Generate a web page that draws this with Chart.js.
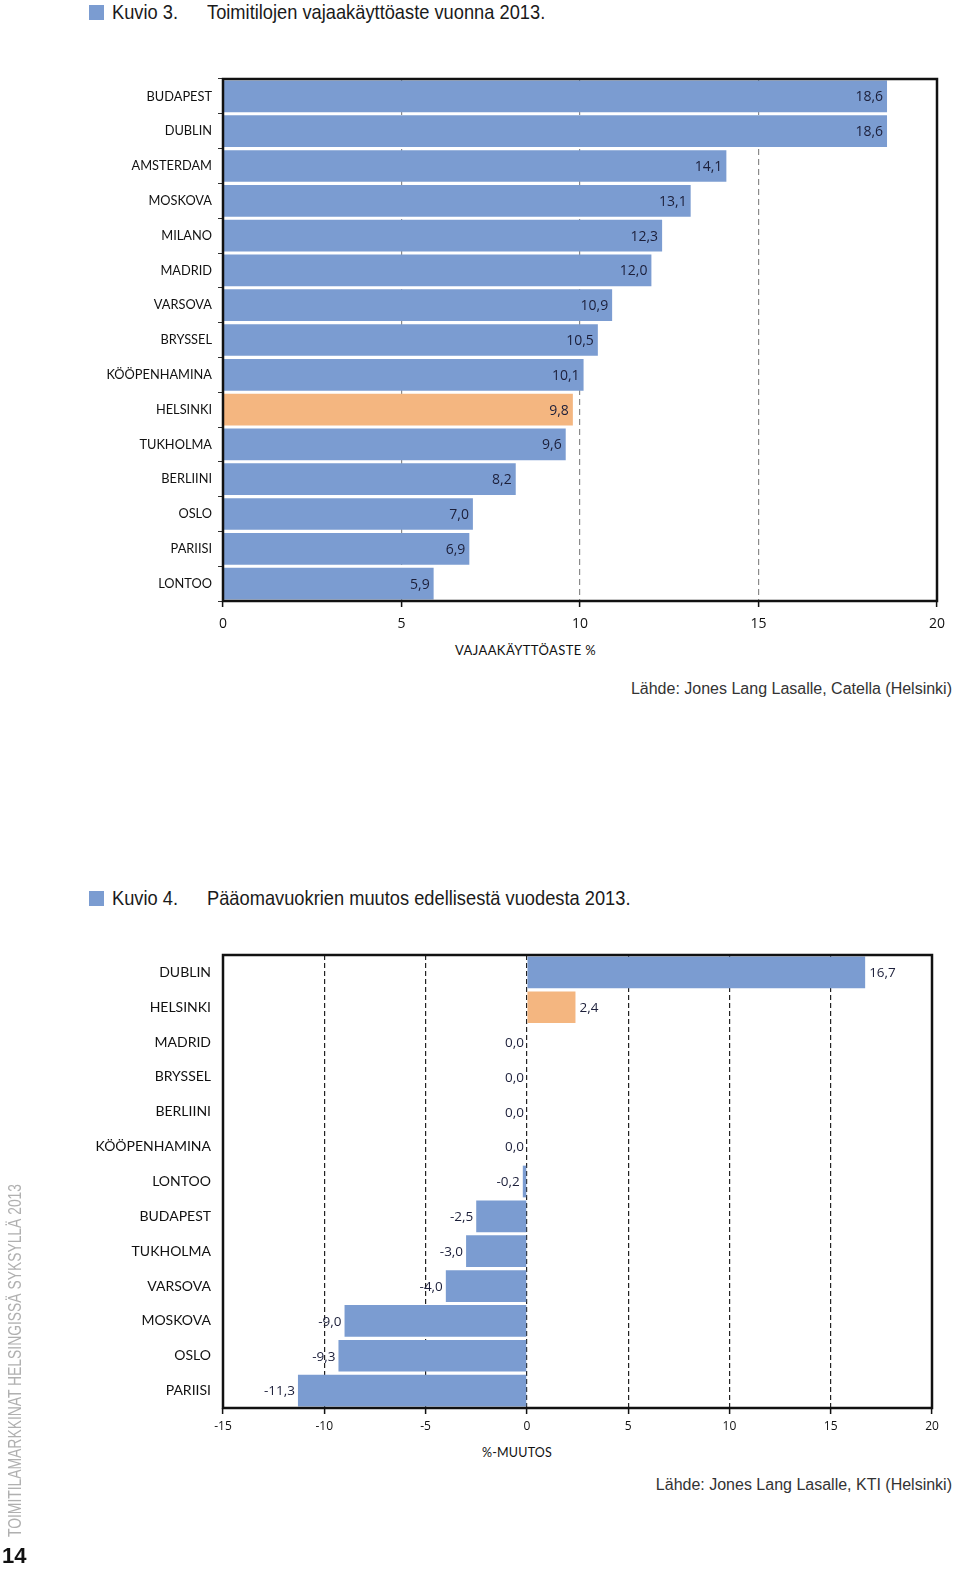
<!DOCTYPE html>
<html lang="fi">
<head>
<meta charset="UTF-8">
<title>Kuvio 3 ja 4</title>
<script src="https://cdn.jsdelivr.net/npm/chart.js"></script>
<style>
  body { margin: 0; background: #fff; width: 960px; height: 1579px; position: relative; overflow: hidden; }
  .title { position: absolute; left: 89px; font-family: "Liberation Sans", sans-serif; font-size: 21px; color: #1a1a1a; white-space: nowrap; }
  .title .sq { position: absolute; left: 0; top: 5px; width: 15px; height: 15px; background: #7b9cd1; }
  .title .num, .title .txt { position: absolute; top: 0; display: inline-block; transform-origin: 0 0; transform: scaleX(0.87); }
  .title .num { left: 23px; }
  .title .txt { left: 118px; }
  .axt { position: absolute; font-family: Lato, sans-serif; font-size: 13px; letter-spacing: 0.4px; color: #111; white-space: nowrap; }
  .src { position: absolute; right: 8px; font-family: "Liberation Sans", sans-serif; font-size: 16px; color: #333; white-space: nowrap; }
  canvas { position: absolute; left: 0; }
  .side { position: absolute; left: 4px; top: 1537px; transform-origin: 0 0; transform: rotate(-90deg) scaleX(0.73); font-family: "Liberation Sans", sans-serif; font-size: 19px; color: #b0b0b0; white-space: nowrap; }
  .page { position: absolute; left: 2px; top: 1543px; font-family: "Liberation Sans", sans-serif; font-weight: bold; font-size: 22px; color: #111; }
</style>
</head>
<body>

<div class="title" style="top:0px"><div class="sq"></div><span class="num">Kuvio 3.</span><span class="txt">Toimitilojen vajaakäyttöaste vuonna 2013.</span></div>
<canvas id="chart1" width="960" height="570" style="top:70px"></canvas>
<div class="axt" style="left:455px; top:642px">VAJAAKÄYTTÖASTE %</div>
<div class="src" style="top:680px">Lähde: Jones Lang Lasalle, Catella (Helsinki)</div>

<div class="title" style="top:886px"><div class="sq"></div><span class="num">Kuvio 4.</span><span class="txt">Pääomavuokrien muutos edellisestä vuodesta 2013.</span></div>
<canvas id="chart2" width="960" height="500" style="top:945px"></canvas>
<div class="axt" style="left:482px; top:1445px; font-size:12.5px; letter-spacing:0.2px">%-MUUTOS</div>
<div class="src" style="top:1476px">Lähde: Jones Lang Lasalle, KTI (Helsinki)</div>

<div class="side">TOIMITILAMARKKINAT HELSINGISSÄ SYKSYLLÄ 2013</div>
<div class="page">14</div>

<script>
  // Kuvio 3: vajaakäyttöaste %
  const cities1 = ['BUDAPEST', 'DUBLIN', 'AMSTERDAM', 'MOSKOVA', 'MILANO', 'MADRID', 'VARSOVA', 'BRYSSEL', 'KÖÖPENHAMINA', 'HELSINKI', 'TUKHOLMA', 'BERLIINI', 'OSLO', 'PARIISI', 'LONTOO']
  const vacancy = [18.6, 18.6, 14.1, 13.1, 12.3, 12.0, 10.9, 10.5, 10.1, 9.8, 9.6, 8.2, 7.0, 6.9, 5.9]
  const ticks1 = [0, 5, 10, 15, 20]

  // Kuvio 4: pääomavuokrien muutos %
  const cities2 = ['DUBLIN', 'HELSINKI', 'MADRID', 'BRYSSEL', 'BERLIINI', 'KÖÖPENHAMINA', 'LONTOO', 'BUDAPEST', 'TUKHOLMA', 'VARSOVA', 'MOSKOVA', 'OSLO', 'PARIISI']
  const rentChange = [16.7, 2.4, 0.0, 0.0, 0.0, 0.0, -0.2, -2.5, -3.0, -4.0, -9.0, -9.3, -11.3]
  const ticks2 = [-15, -10, -5, 0, 5, 10, 15, 20]

  const highlight = 'HELSINKI'
  const BLUE = '#7b9cd1'
  const ORANGE = '#f4b680'

  const fmt = v => v.toFixed(1).replace('.', ',')

  // frame around the plot area
  const framePlugin = {
    id: 'frame',
    afterDraw(chart) {
      const { ctx, chartArea: a } = chart
      ctx.save()
      ctx.strokeStyle = '#111'
      ctx.lineWidth = 2.5
      ctx.strokeRect(a.left, a.top, a.right - a.left, a.bottom - a.top)
      ctx.restore()
    }
  }

  // value labels next to bar ends
  const valuePlugin = {
    id: 'values',
    afterDatasetsDraw(chart, args, opts) {
      const { ctx } = chart
      const meta = chart.getDatasetMeta(0)
      const data = chart.data.datasets[0].data
      ctx.save()
      ctx.font = opts.font
      ctx.fillStyle = '#1c1f3a'
      ctx.textBaseline = 'middle'
      meta.data.forEach((bar, i) => {
        const v = data[i]
        if (opts.inside) {
          ctx.textAlign = 'right'
          ctx.fillText(fmt(v), bar.x - 4, bar.y + 1)
        } else if (v > 0) {
          ctx.textAlign = 'left'
          ctx.fillText(fmt(v), bar.x + 4, bar.y + 1)
        } else {
          ctx.textAlign = 'right'
          ctx.fillText(fmt(v), Math.min(bar.x, bar.base) - 3, bar.y + 1)
        }
      })
      ctx.restore()
    }
  }

  const colorsFor = list => list.map(c => c === highlight ? ORANGE : BLUE)

  // fixed axis width, no extra label padding above/below the plot
  const fixY = s => { s.width = 223; s.paddingTop = 0; s.paddingBottom = 0 }

  new Chart(document.getElementById('chart1'), {
    type: 'bar',
    data: {
      labels: cities1,
      datasets: [{
        data: vacancy,
        backgroundColor: colorsFor(cities1),
        categoryPercentage: 1,
        barPercentage: 0.91,
      }]
    },
    options: {
      indexAxis: 'y',
      responsive: false,
      animation: false,
      layout: { padding: { top: 9, right: 23, left: 0, bottom: 0 } },
      plugins: {
        legend: { display: false },
        tooltip: { enabled: false },
        values: { inside: true, font: '14px "Open Sans"' },
      },
      scales: {
        x: {
          min: 0,
          max: 20,
          afterBuildTicks: s => { s.ticks = ticks1.map(v => ({ value: v })) },
          afterFit: s => { s.height = 39 },
          ticks: { font: { family: 'Open Sans', size: 14 }, color: '#111', padding: 9 },
          grid: {
            color: ctx => (ctx.tick && ctx.tick.value > 0 && ctx.tick.value < 20) ? '#8a8a8a' : 'rgba(0,0,0,0)',
            lineWidth: 1.2,
            tickColor: '#111',
            tickLength: 6,
            tickWidth: 1.5,
          },
          border: { display: false, dash: [6, 4] },
        },
        y: {
          afterFit: fixY,
          ticks: { font: { family: 'Lato', size: 12.8 }, color: '#111', padding: 6 },
          grid: { drawOnChartArea: false, tickLength: 5, tickColor: '#333', tickWidth: 1 },
          border: { display: false },
        }
      }
    },
    plugins: [valuePlugin, framePlugin]
  })

  new Chart(document.getElementById('chart2'), {
    type: 'bar',
    data: {
      labels: cities2,
      datasets: [{
        data: rentChange,
        backgroundColor: colorsFor(cities2),
        categoryPercentage: 1,
        barPercentage: 0.91,
      }]
    },
    options: {
      indexAxis: 'y',
      responsive: false,
      animation: false,
      layout: { padding: { top: 10, right: 28, left: 0, bottom: 0 } },
      plugins: {
        legend: { display: false },
        tooltip: { enabled: false },
        values: { inside: false, font: '13.5px "Open Sans"' },
      },
      scales: {
        x: {
          min: -15,
          max: 20,
          afterBuildTicks: s => { s.ticks = ticks2.map(v => ({ value: v })) },
          afterFit: s => { s.height = 37 },
          ticks: { font: { family: 'Open Sans', size: 12 }, color: '#111', padding: 5 },
          grid: {
            color: ctx => (ctx.tick && ctx.tick.value > -15 && ctx.tick.value < 20) ? '#222' : 'rgba(0,0,0,0)',
            lineWidth: 1.2,
            tickColor: '#111',
            tickLength: 6,
            tickWidth: 1.5,
          },
          border: { display: false, dash: [5, 3] },
        },
        y: {
          afterFit: fixY,
          ticks: { font: { family: 'Lato', size: 14 }, color: '#111', padding: 4 },
          grid: { display: false },
          border: { display: false },
        }
      }
    },
    plugins: [valuePlugin, framePlugin]
  })
</script>
</body>
</html>
